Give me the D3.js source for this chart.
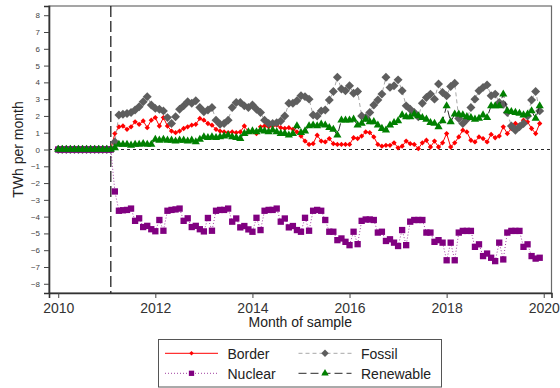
<!DOCTYPE html>
<html>
<head>
<meta charset="utf-8">
<script src="https://cdn.jsdelivr.net/npm/d3@7"></script>
<style>
  html, body { margin: 0; padding: 0; background: #fff; }
  svg { display: block; font-family: "Liberation Sans", Arial, sans-serif; }
</style>
</head>
<body>
<svg id="chart" width="560" height="388"></svg>
<script>
// Monthly series, January 2010 to December 2019 (TWh per month)
const startYear = 2010;
const eventMonth = 2011 + 1 / 12; // vertical marker, Feb 2011

const border = [
  0,0,0,0,0,0,0,0,0,0,0,0,0,0,
  0.95,1.35,1.4,1.2,1.35,1.65,1.5,1.7,1.3,1.75,
  1.9,1.4,1.9,1.4,1.1,1.0,1.1,1.25,1.35,1.45,1.5,1.85,
  1.75,1.55,1.45,1.2,1.1,1.05,1.0,1.05,1.0,1.05,1.4,1.05,
  1.1,0.95,1.35,1.4,1.35,1.4,1.45,1.3,1.25,1.3,1.2,1.05,
  0.8,0.5,0.3,0.35,0.85,0.5,0.45,0.65,0.35,0.3,0.3,0.3,
  0.3,0.7,0.65,0.8,1.05,1.0,0.75,0.3,0.2,0.25,0.25,0.4,
  0.1,0.2,0.5,0.35,0.3,0.05,0.4,0.55,0.15,0.5,0.15,0.4,
  0.95,0.15,0.4,0.75,1.15,1.05,0.55,0.45,0.75,0.65,0.45,0.9,
  0.7,0.8,1.35,0.95,1.25,1.55,1.45,1.75,1.65,1.25,0.95,1.55
];

const fossil = [
  0,0,0,0,0,0,0,0,0,0,0,0,0,0,
  0.45,2.05,2.1,2.15,2.2,2.35,2.55,2.85,3.15,2.65,
  2.45,2.4,2.3,1.9,1.55,1.95,2.4,2.6,2.85,2.75,2.9,2.5,
  2.25,2.35,2.5,1.75,1.5,1.55,1.75,2.5,2.8,2.8,2.6,2.5,
  2.65,2.4,2.2,1.75,1.55,1.55,1.6,1.7,2.0,2.75,2.75,2.9,
  3.2,3.15,3.0,2.05,2.0,2.3,2.35,2.95,3.45,4.3,3.6,3.5,
  3.8,3.35,3.45,2.0,1.9,2.2,2.65,2.95,3.3,4.3,3.7,3.8,
  4.15,3.5,2.6,2.4,2.2,1.95,2.75,3.1,3.3,3.0,3.9,3.4,
  3.2,3.75,3.95,1.85,1.55,1.8,2.5,3.0,3.5,3.7,3.85,3.2,
  3.3,2.8,2.7,2.2,1.4,1.15,1.35,1.55,2.0,2.95,3.45,2.3
];

const nuclear = [
  0,0,0,0,0,0,0,0,0,0,0,0,0,0,
  -2.5,-3.65,-3.62,-3.6,-3.52,-4.25,-4.1,-4.62,-4.55,-4.75,
  -4.87,-4.2,-4.84,-3.65,-3.6,-3.57,-3.52,-4.25,-4.1,-4.62,-4.55,-4.75,
  -4.88,-4.08,-4.84,-3.65,-3.6,-3.6,-3.52,-4.3,-4.11,-4.64,-4.56,-4.76,
  -4.9,-4.07,-4.8,-3.65,-3.6,-3.6,-3.52,-4.3,-4.11,-4.64,-4.56,-4.8,
  -4.9,-4.07,-4.84,-3.65,-3.6,-3.65,-4.2,-4.9,-4.9,-5.4,-5.3,-5.5,
  -5.7,-4.9,-5.64,-4.25,-4.17,-4.17,-4.2,-4.95,-4.9,-5.45,-5.35,-5.55,
  -5.75,-4.8,-5.7,-4.3,-4.2,-4.2,-4.2,-4.95,-4.95,-5.5,-5.4,-5.55,
  -6.6,-5.55,-6.6,-4.95,-4.85,-4.85,-4.85,-5.8,-5.65,-6.35,-6.2,-6.45,
  -6.65,-5.55,-6.55,-4.95,-4.85,-4.85,-4.85,-5.8,-5.65,-6.35,-6.5,-6.45
];

const renewable = [
  0,0,0,0,0,0,0,0,0,0,0,0,0,0,
  0.1,0.3,0.3,0.3,0.25,0.3,0.3,0.35,0.3,0.3,
  0.6,0.55,0.6,0.55,0.55,0.5,0.55,0.55,0.5,0.55,0.45,0.6,
  0.75,0.7,0.75,0.7,0.75,0.8,0.85,0.75,0.7,0.65,0.95,1.05,
  1.1,1.05,1.15,1.1,1.05,1.15,1.05,0.95,0.95,0.85,0.95,1.4,
  1.0,1.1,1.4,1.45,1.4,1.5,1.45,1.3,1.2,0.85,1.75,1.75,
  1.75,1.8,1.45,1.55,1.8,1.65,1.65,1.45,1.25,1.15,1.45,1.6,
  1.7,2.05,1.95,1.95,2.1,2.0,1.9,1.8,1.6,1.55,1.35,1.7,
  2.6,1.65,2.1,2.1,2.05,1.95,1.9,1.8,1.85,2.05,1.9,2.6,
  2.6,2.6,3.3,2.3,2.25,2.2,2.15,2.05,2.1,2.3,1.85,2.6
];

const yTicks = [-8,-7,-6,-5,-4,-3,-2,-1,0,1,2,3,4,5,6,7,8];
const xTicks = [2010, 2012, 2014, 2016, 2018, 2020];
const legendLabels = ["Border", "Fossil", "Nuclear", "Renewable"];

// Plot frame
const plotLeft = 49, plotRight = 551.5, plotTop = 6, plotBottom = 293;

const svg = d3.select("#chart");

const x = d3.scaleLinear().domain([2009.81, 2020.16]).range([plotLeft, plotRight]);
const y = d3.scaleLinear().domain([-8.55, 8.55]).range([plotBottom, plotTop]);

const monthTime = i => startYear + i / 12;

// Series styling
const series = [
  { name: "Border", values: border, line: "#ff0000", dash: null, width: 1,
    marker: "#ff0000", symbol: d3.symbolSquare, size: 14, rotate: 45 },
  { name: "Fossil", values: fossil, line: "#a8a8a8", dash: "4,3", width: 1,
    marker: "#5e5e5e", symbol: d3.symbolSquare, size: 40, rotate: 45 },
  { name: "Nuclear", values: nuclear, line: "#a040a0", dash: "1,2", width: 1,
    marker: "#800080", symbol: d3.symbolSquare, size: 40, rotate: 0 },
  { name: "Renewable", values: renewable, line: "#2a2a2a", dash: "8,4", width: 1,
    marker: "#008000", symbol: d3.symbolTriangle, size: 29, rotate: 0 }
];

// Frame: top and right edges
svg.append("rect")
  .attr("x", plotLeft).attr("y", plotTop)
  .attr("width", plotRight - plotLeft).attr("height", plotBottom - plotTop)
  .attr("fill", "none").attr("stroke", "#6a6a6a").attr("stroke-width", 1.2);

// Zero reference line
svg.append("line")
  .attr("x1", plotLeft).attr("x2", plotRight)
  .attr("y1", y(0)).attr("y2", y(0))
  .attr("stroke", "#111").attr("stroke-width", 0.9)
  .attr("stroke-dasharray", "3,3");

// Event line
svg.append("line")
  .attr("x1", x(eventMonth)).attr("x2", x(eventMonth))
  .attr("y1", plotTop).attr("y2", plotBottom)
  .attr("stroke", "#111").attr("stroke-width", 1.2)
  .attr("stroke-dasharray", "11,4");

// Lines then markers, series by series
const plot = svg.append("g");
series.forEach(s => {
  const pts = s.values.map((v, i) => [monthTime(i), v]);
  const line = d3.line().x(d => x(d[0])).y(d => y(d[1]));
  plot.append("path")
    .attr("d", line(pts))
    .attr("fill", "none")
    .attr("stroke", s.line)
    .attr("stroke-width", s.width)
    .attr("stroke-dasharray", s.dash);
  const sym = d3.symbol().type(s.symbol).size(s.size);
  plot.append("g").selectAll("path")
    .data(pts)
    .join("path")
    .attr("d", sym)
    .attr("transform", d => `translate(${x(d[0])},${y(d[1])}) rotate(${s.rotate})`)
    .attr("fill", s.marker);
});

// Y axis
const yAxis = svg.append("g")
  .attr("transform", `translate(${plotLeft},0)`)
  .call(d3.axisLeft(y).tickValues(yTicks).tickSize(5).tickPadding(4).tickFormat(d3.format("d")));
yAxis.select(".domain").attr("stroke", "#333").attr("stroke-width", 1.6);
yAxis.selectAll(".tick line").attr("stroke", "#444");
yAxis.selectAll(".tick text")
  .attr("fill", "#444").attr("font-size", 8)
  .attr("font-family", "Liberation Sans, Arial, sans-serif");

// X axis
const xAxis = svg.append("g")
  .attr("transform", `translate(0,${plotBottom})`)
  .call(d3.axisBottom(x).tickValues(xTicks).tickSize(5).tickPadding(5).tickFormat(d3.format("d")));
xAxis.select(".domain").attr("stroke", "#333").attr("stroke-width", 1.6);
xAxis.selectAll(".tick line").attr("stroke", "#444");
xAxis.selectAll(".tick text")
  .attr("fill", "#333").attr("font-size", 14)
  .attr("font-family", "Liberation Sans, Arial, sans-serif");

// Axis titles
svg.append("text")
  .attr("x", (plotLeft + plotRight) / 2).attr("y", 326.5)
  .attr("text-anchor", "middle").attr("font-size", 14).attr("fill", "#222")
  .text("Month of sample");
svg.append("text")
  .attr("transform", `translate(23,${(plotTop + plotBottom) / 2}) rotate(-90)`)
  .attr("text-anchor", "middle").attr("font-size", 14).attr("fill", "#222")
  .text("TWh per month");

// Legend
const legend = svg.append("g");
legend.append("rect")
  .attr("x", 158.5).attr("y", 339.5).attr("width", 283).attr("height", 47.5)
  .attr("fill", "#fff").attr("stroke", "#555").attr("stroke-width", 1);

const legendPos = [
  { lx: 165, ty: 353.3 }, { lx: 298.5, ty: 353.3 },
  { lx: 165, ty: 373.3 }, { lx: 298.5, ty: 373.3 }
];
const legendSizes = [10, 28, 28, 24];
series.forEach((s, k) => {
  const p = legendPos[k];
  legend.append("line")
    .attr("x1", p.lx).attr("x2", p.lx + 53)
    .attr("y1", p.ty).attr("y2", p.ty)
    .attr("stroke", s.line).attr("stroke-width", 1)
    .attr("stroke-dasharray", s.dash);
  legend.append("path")
    .attr("d", d3.symbol().type(s.symbol).size(legendSizes[k]))
    .attr("transform", `translate(${p.lx + 26.5},${p.ty}) rotate(${s.rotate})`)
    .attr("fill", s.marker);
  legend.append("text")
    .attr("x", p.lx + 62.5).attr("y", p.ty + 5.5)
    .attr("font-size", 14).attr("fill", "#222")
    .text(legendLabels[k]);
});
</script>
</body>
</html>
